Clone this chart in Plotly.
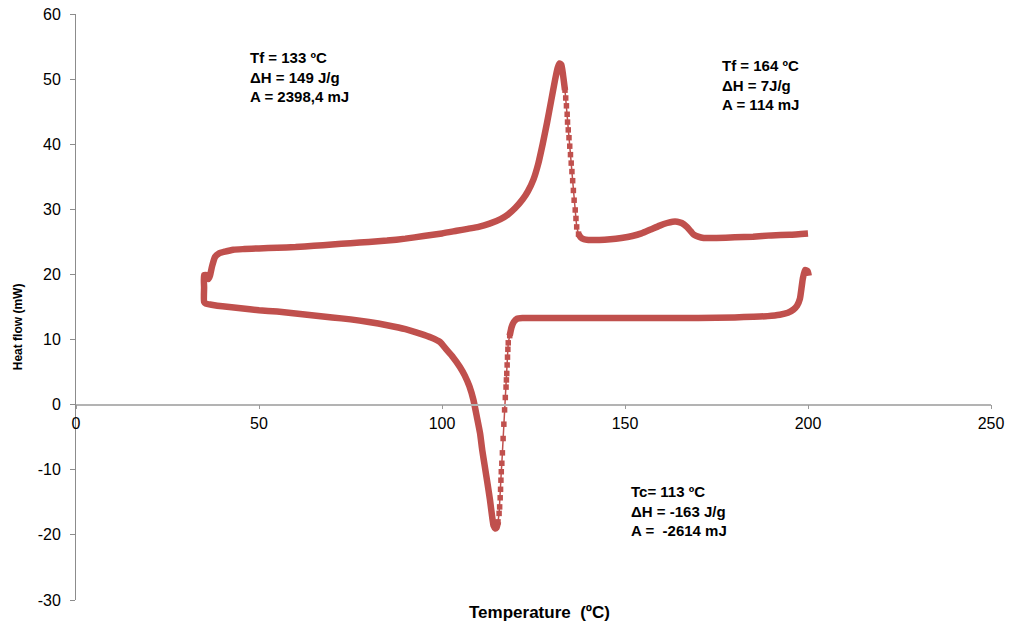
import plotly.graph_objects as go

# ---- DSC trace: heat flow (mW) vs temperature (ºC) ----
# Heating run (rising branch up to the melting peak)
heat_rise_T = [35.0, 35.8, 36.2, 36.6, 37.2, 38.0, 39.0, 40.7, 43.0, 46.0, 50.0, 55.0, 60.0,
               65.0, 70.0, 75.0, 80.0, 85.0, 90.0, 95.0, 100.0, 104.0, 107.0, 110.0, 113.0,
               116.0, 118.0, 120.0, 122.0, 123.5, 125.0, 126.3, 127.5, 128.7, 129.8, 130.9,
               131.6, 132.1, 132.6, 133.1, 133.6]
heat_rise_Q = [19.9, 19.9, 19.3, 19.8, 21.3, 22.7, 23.2, 23.5, 23.8, 23.9, 24.0, 24.1, 24.2,
               24.4, 24.6, 24.8, 25.0, 25.2, 25.5, 25.9, 26.3, 26.7, 27.0, 27.3, 27.8,
               28.5, 29.2, 30.2, 31.5, 32.8, 34.6, 37.0, 40.0, 43.3, 46.6, 49.9,
               51.7, 52.4, 52.2, 50.5, 48.3]

# Heating run: fast drop after the melting peak (sparse samples)
heat_drop_T = [133.8, 134.0, 134.2, 134.3, 134.5, 134.7, 134.9, 135.1, 135.3, 135.5, 135.7,
               135.9, 136.1, 136.4, 136.6, 136.8]
heat_drop_Q = [47.1, 45.9, 44.6, 43.4, 42.2, 41.0, 39.7, 38.4, 37.1, 35.8, 34.4,
               32.9, 31.4, 29.9, 28.6, 27.3]

# Heating run: baseline with the small second endotherm
heat_tail_T = [137.3, 137.9, 138.8, 140.0, 143.0, 146.0, 149.0, 152.0, 154.5, 157.0, 159.5,
               161.5, 163.0, 164.3, 165.5, 166.9, 168.0, 168.8, 170.0, 171.5, 175.0, 180.0,
               185.0, 190.0, 195.0, 200.0]
heat_tail_Q = [26.2, 25.7, 25.4, 25.3, 25.3, 25.4, 25.6, 25.9, 26.3, 26.9, 27.5,
               27.9, 28.1, 28.1, 27.9, 27.3, 26.6, 26.1, 25.8, 25.6, 25.6, 25.7,
               25.8, 26.0, 26.1, 26.3]

# Cooling run: start at 200 ºC down to the onset of crystallisation
cool_head_T = [200.2, 199.9, 199.2, 198.6, 198.2, 197.8, 197.0, 196.0, 194.5, 192.3, 189.0,
               185.0, 180.0, 170.0, 160.0, 150.0, 140.0, 130.0, 125.0, 122.0, 120.5, 119.6,
               119.0, 118.5]
cool_head_Q = [19.8, 20.5, 20.7, 19.4, 17.8, 16.3, 15.2, 14.6, 14.1, 13.8, 13.6,
               13.5, 13.4, 13.3, 13.3, 13.3, 13.3, 13.3, 13.3, 13.3, 13.2, 12.7,
               11.9, 10.6]

# Cooling run: fast crystallisation drop (sparse samples)
cool_drop_T = [118.1, 118.0, 117.9, 117.8, 117.7, 117.6, 117.5, 117.3, 117.1, 116.9, 116.7,
               116.5, 116.35, 116.2, 116.1, 116.0, 115.9, 115.75, 115.6]
cool_drop_Q = [9.5, 8.5, 7.3, 6.1, 4.8, 3.8, 2.7, 1.1, -0.8, -3.0, -5.2,
               -7.4, -9.0, -10.3, -11.6, -13.0, -14.3, -15.7, -16.7]

# Cooling run: crystallisation minimum and return to 35 ºC
cool_tail_T = [115.3, 114.9, 114.5, 114.1, 113.7, 113.1, 112.4, 111.7, 111.0, 110.4, 109.5,
               108.6, 107.5, 106.2, 104.9, 103.0, 101.0, 99.5, 97.0, 94.0, 90.0, 85.0,
               80.0, 75.0, 70.0, 65.0, 60.0, 55.0, 50.0, 45.0, 40.0, 37.0, 35.5, 35.0,
               35.0, 35.0]
cool_tail_Q = [-18.0, -18.9, -19.0, -18.6, -17.2, -14.6, -12.0, -9.5, -7.0, -4.4, -1.8,
               0.7, 2.8, 4.5, 5.8, 7.3, 8.6, 9.6, 10.3, 10.9, 11.6, 12.2,
               12.7, 13.1, 13.4, 13.7, 14.0, 14.3, 14.5, 14.8, 15.1, 15.35, 15.5, 15.8,
               18.0, 19.9]

# Axis ticks
x_ticks = [0, 50, 100, 150, 200, 250]
x_tick_labels = ["0", "50", "100", "150", "200", "250"]
y_ticks = [-30, -20, -10, 0, 10, 20, 30, 40, 50, 60]
y_tick_labels = ["-30", "-20", "-10", "0", "10", "20", "30", "40", "50", "60"]

RED = "#C0504D"
FONT = "Arial, Liberation Sans, sans-serif"

fig = go.Figure()

# Dense parts of the curve: thick continuous line
dense_x = cool_head_T + [None] + cool_tail_T + heat_rise_T[1:] + [None] + heat_tail_T
dense_y = cool_head_Q + [None] + cool_tail_Q + heat_rise_Q[1:] + [None] + heat_tail_Q
fig.add_trace(go.Scatter(
    x=dense_x, y=dense_y, mode="lines",
    line=dict(color=RED, width=6.5, shape="spline", smoothing=0.5),
    connectgaps=False, hoverinfo="skip", showlegend=False,
))

# Fast transitions: individual samples joined by a thin line
sparse_x = ([heat_rise_T[-1]] + heat_drop_T + [heat_tail_T[0]] + [None]
            + [cool_head_T[-1]] + cool_drop_T + [cool_tail_T[0]])
sparse_y = ([heat_rise_Q[-1]] + heat_drop_Q + [heat_tail_Q[0]] + [None]
            + [cool_head_Q[-1]] + cool_drop_Q + [cool_tail_Q[0]])
fig.add_trace(go.Scatter(
    x=sparse_x, y=sparse_y, mode="lines+markers",
    line=dict(color=RED, width=1.5),
    marker=dict(symbol="square", size=5.5, color=RED),
    connectgaps=False, hoverinfo="skip", showlegend=False,
))

note_font = dict(family=FONT, size=15, color="black")
fig.add_annotation(x=47.0, y=54.9, xref="x", yref="y", xanchor="left", yanchor="top",
                   text="<b>Tf = 133 ºC<br>ΔH = 149 J/g<br>A = 2398,4 mJ</b>",
                   showarrow=False, align="left", font=note_font)
fig.add_annotation(x=176.0, y=53.7, xref="x", yref="y", xanchor="left", yanchor="top",
                   text="<b>Tf = 164 ºC<br>ΔH = 7J/g<br>A = 114 mJ</b>",
                   showarrow=False, align="left", font=note_font)
fig.add_annotation(x=151.0, y=-11.7, xref="x", yref="y", xanchor="left", yanchor="top",
                   text="<b>Tc= 113 ºC<br>ΔH = -163 J/g<br>A =  -2614 mJ</b>",
                   showarrow=False, align="left", font=note_font)

# Axis titles
fig.add_annotation(x=0.507, y=-0.021, xref="paper", yref="paper",
                   xanchor="center", yanchor="middle", showarrow=False,
                   text="<b>Temperature  (ºC)</b>",
                   font=dict(family=FONT, size=17, color="black"))
fig.add_annotation(x=-0.063, y=0.466, xref="paper", yref="paper",
                   xanchor="center", yanchor="middle", showarrow=False, textangle=-90,
                   text="<b>Heat flow (mW)</b>",
                   font=dict(family=FONT, size=12, color="black"))

fig.update_layout(
    width=1012, height=629,
    margin=dict(l=76, r=21, t=14, b=29, autoexpand=False),
    paper_bgcolor="white", plot_bgcolor="white",
    font=dict(family=FONT, size=16, color="black"),
    xaxis=dict(
        range=[0, 250], tickvals=x_ticks, ticktext=x_tick_labels,
        showgrid=False, zeroline=False, automargin=False,
        showline=True, linecolor="#b3b3b3", linewidth=1.5,
        ticks="outside", ticklen=4, tickcolor="#9a9a9a", tickwidth=1,
        anchor="free", position=1 / 3,
        tickfont=dict(family=FONT, size=16, color="black"),
    ),
    yaxis=dict(
        range=[-30, 60], tickvals=y_ticks, ticktext=y_tick_labels,
        showgrid=False, zeroline=False, automargin=False,
        showline=True, linecolor="#8c8c8c", linewidth=1,
        ticks="outside", ticklen=5, tickcolor="#8c8c8c", tickwidth=1,
        ticklabelstandoff=6,
        tickfont=dict(family=FONT, size=16, color="black"),
    ),
)

fig.write_html("out.html")
